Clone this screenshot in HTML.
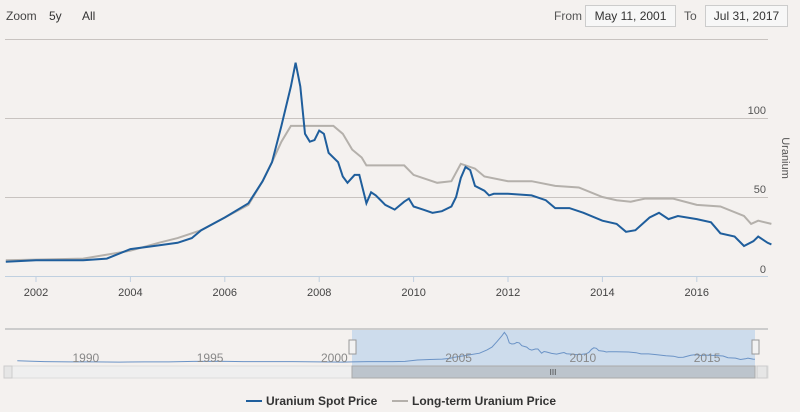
<!DOCTYPE html>
<html><head><meta charset="utf-8"><style>
body{margin:0;background:#f4f1ef;font-family:"Liberation Sans",sans-serif;}
#wrap{position:relative;width:800px;height:412px;overflow:hidden;background:#f4f1ef}
.t{position:absolute;font-size:12px;color:#333}
.box{position:absolute;border:1px solid #ccc;background:#f7f7f7;font-size:12px;color:#333;height:20px;line-height:20px;text-align:center}
</style></head><body>
<div id="wrap">
<span class="t" style="left:6px;top:9px;color:#444">Zoom</span>
<span class="t" style="left:49px;top:9px">5y</span>
<span class="t" style="left:82px;top:9px">All</span>
<span class="t" style="left:554px;top:9px;color:#555">From</span>
<div class="box" style="left:585px;top:5px;width:89px">May 11, 2001</div>
<span class="t" style="left:684px;top:9px;color:#555">To</span>
<div class="box" style="left:705px;top:5px;width:81px">Jul 31, 2017</div>
<svg id="svg" width="800" height="412" style="position:absolute;left:0;top:0"></svg>
</div>
<script>
const spotX=[2001.36,2002,2003,2003.5,2004,2004.5,2005,2005.3,2005.5,2006,2006.5,2006.8,2007,2007.2,2007.4,2007.5,2007.6,2007.7,2007.8,2007.9,2008,2008.1,2008.2,2008.4,2008.5,2008.6,2008.75,2008.85,2009,2009.1,2009.2,2009.4,2009.6,2009.8,2009.9,2010,2010.2,2010.4,2010.6,2010.8,2010.9,2011,2011.1,2011.2,2011.3,2011.5,2011.6,2011.7,2012,2012.5,2012.8,2013,2013.3,2013.6,2014,2014.3,2014.5,2014.7,2015,2015.2,2015.4,2015.6,2016,2016.3,2016.5,2016.8,2017,2017.2,2017.3,2017.5,2017.58];
const spotY=[9,10,10,11,17,19,21,24,29,37,46,60,72,95,120,135,120,90,85,86,92,90,78,72,63,59,64,64,46,53,51,45,42,47,49,44,42,40,41,44,50,62,69,67,57,54,51,52,52,51,48,43,43,40,35,33,28,29,37,40,36,38,36,34,27,25,19,22,25,21,20];
const ltX=[2001.36,2003,2004,2004.6,2005,2005.5,2006,2006.5,2006.8,2007,2007.2,2007.4,2008.3,2008.5,2008.7,2008.9,2009,2009.8,2010,2010.5,2010.8,2011,2011.3,2011.5,2012,2012.5,2013,2013.5,2014,2014.3,2014.6,2014.9,2015.5,2016,2016.5,2017,2017.15,2017.3,2017.58];
const ltY=[10,11,16,21,24,29,37,45,60,72,85,95,95,90,80,75,70,70,64,59,60,71,68,63,60,60,57,56,50,48,47,49,49,45,44,38,33,35,33];
const preX=[1987.9,1988.5,1989,1990,1991,1992,1993,1994,1995,1996,1997,1998,1999,2000,2001,2001.36];
const preY=[14,12,10,9,9,8,9,9,11,12,10,10,10,9,8,9];
const xTicks=[2002,2004,2006,2008,2010,2012,2014,2016];
const yTicks=[0,50,100,150];
const navTicks=[1990,1995,2000,2005,2010,2015];

const NS="http://www.w3.org/2000/svg",svg=document.getElementById('svg');
function el(t,a,p){const e=document.createElementNS(NS,t);for(const k in a)e.setAttribute(k,a[k]);(p||svg).appendChild(e);return e;}
const X=v=>36+(v-2002)*47.2, Y=v=>276-v*1.58;
const NX=v=>318+(v-2000)*24.85, NY=v=>364-v*0.235;
yTicks.forEach(v=>{
 const g=el('line',{x1:5,x2:768,y1:Y(v)+0.5,y2:Y(v)+0.5,stroke:v==0?'#c0d0e0':'#c8c3c0','stroke-width':1});
 
 
 if(v<150){const t=el('text',{x:766,y:Y(v)-(v==0?3:4),'text-anchor':'end','font-size':11,fill:'#555'});t.textContent=v;
 
 }
});
const yt=el('text',{transform:'translate(782,158) rotate(90)','text-anchor':'middle','font-size':11,fill:'#555'});yt.textContent='Uranium';


xTicks.forEach(v=>{
 el('line',{x1:X(v),x2:X(v),y1:277,y2:282,stroke:'#c0d0e0'});
 const t=el('text',{x:X(v),y:296,'text-anchor':'middle','font-size':11,fill:'#444'});t.textContent=v;
 
 
});
function pts(xs,ys,fx,fy){return xs.map((x,i)=>fx(x).toFixed(1)+','+fy(ys[i]).toFixed(1)).join(' ');}
const lt=el('polyline',{points:pts(ltX,ltY,X,Y),fill:'none',stroke:'#b4b0ab','stroke-width':2});


const sp=el('polyline',{points:pts(spotX,spotY,X,Y),fill:'none',stroke:'#1f5e9c','stroke-width':2});


el('line',{x1:5,x2:768,y1:329,y2:329,stroke:'#ccc','stroke-width':2});
const sel=el('rect',{x:352,y:330,width:403,height:48,fill:'#cddcec'});


const nX=preX.concat(spotX.slice(1)),nY=preY.concat(spotY.slice(1));
const np=el('polyline',{points:pts(nX,nY,NX,NY),fill:'none',stroke:'#6b93c6','stroke-width':1});


navTicks.forEach(v=>{
 const t=el('text',{x:NX(v)+3,y:362,'text-anchor':'start','font-size':12,fill:'#888'});t.textContent=v;
 
 
});
el('rect',{x:5,y:366,width:763,height:12,fill:'#efefef',stroke:'#ddd'});
const th=el('rect',{x:352,y:366,width:403,height:12,fill:'#bcc4cc',stroke:'#aaa'});


const tt=el('text',{x:553,y:375,'text-anchor':'middle','font-size':8,fill:'#444'});tt.textContent='III';
el('rect',{x:4,y:366,width:8,height:12,fill:'#e6e6e6',stroke:'#ccc'});
el('rect',{x:757,y:366,width:10,height:12,fill:'#e6e6e6',stroke:'#ccc'});
[[349,'left'],[752,'right']].forEach(([x,n])=>{const h=el('rect',{x:x,y:340,width:7,height:14,fill:'#f2f2f2',stroke:'#999'});
 
 });
el('line',{x1:246,x2:262,y1:401,y2:401,stroke:'#1f5e9c','stroke-width':2});
const l1=el('text',{x:266,y:405,'font-size':12,'font-weight':'bold',fill:'#333'});l1.textContent='Uranium Spot Price';


el('line',{x1:392,x2:408,y1:401,y2:401,stroke:'#b4b0ab','stroke-width':2});
const l2=el('text',{x:412,y:405,'font-size':12,'font-weight':'bold',fill:'#333'});l2.textContent='Long-term Uranium Price';


</script>
</body></html>
